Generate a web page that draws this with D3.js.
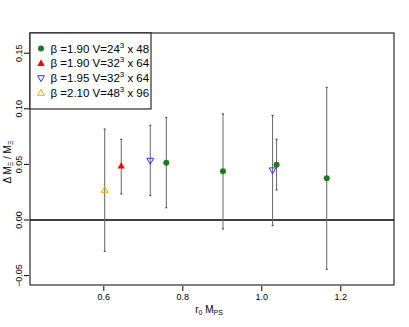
<!DOCTYPE html>
<html>
<head>
<meta charset="utf-8">
<title>Delta M</title>
<style>
  body { margin: 0; background: #fff; }
  text { font-family: "Liberation Sans", Arial, sans-serif; }
</style>
</head>
<body>
<div id="chart"></div>
<script src="https://cdn.jsdelivr.net/npm/d3@7"></script>
<script>
(function(d3) {
  'use strict';

  // data: one array per ensemble group
  var groups = ['b190_24', 'b190_32', 'b195_32', 'b210_48'];
  var xVals = [
    [0.7595, 0.9030, 1.0387, 1.1657],
    [0.6454],
    [0.7189, 1.0286],
    [0.6035]
  ];
  var yVals = [
    [0.0515, 0.0438, 0.0497, 0.0375],
    [0.0486],
    [0.0533, 0.0447],
    [0.0270]
  ];
  var yLow = [
    [0.0110, -0.0081, 0.0270, -0.0443],
    [0.0234],
    [0.0219, -0.0051],
    [-0.0281]
  ];
  var yHigh = [
    [0.0923, 0.0953, 0.0726, 0.1193],
    [0.0726],
    [0.0852, 0.0941],
    [0.0818]
  ];
  var legendBeta = ['1.90', '1.90', '1.95', '2.10'];
  var legendL = ['24', '32', '32', '48'];
  var legendT = ['48', '64', '64', '96'];
  var xTicks = [0.6, 0.8, 1.0, 1.2];
  var yTicks = [-0.05, 0.00, 0.05, 0.10, 0.15];

  var width = 409, height = 327;
  var left = 30, right = 394, top = 33, bottom = 285;

  var x = d3.scaleLinear().domain([0.4144, 1.336]).range([left, right]);
  var y = d3.scaleLinear().domain([-0.05845, 0.16817]).range([bottom, top]);

  var svg = d3.select('#chart').append('svg')
    .attr('width', width)
    .attr('height', height);

  // zero line
  svg.append('line')
    .attr('x1', left).attr('x2', right)
    .attr('y1', y(0)).attr('y2', y(0))
    .attr('stroke', '#000').attr('stroke-width', 1.3);

  // error bars
  groups.forEach(function(g, i) {
    xVals[i].forEach(function(xv, j) {
      var bar = svg.append('g');
      bar.append('line')
        .attr('x1', x(xv)).attr('x2', x(xv))
        .attr('y1', y(yLow[i][j])).attr('y2', y(yHigh[i][j]))
        .attr('stroke', '#666').attr('stroke-width', 1);
      [yLow[i][j], yHigh[i][j]].forEach(function(e) {
        bar.append('line')
          .attr('x1', x(xv) - 1).attr('x2', x(xv) + 1)
          .attr('y1', y(e)).attr('y2', y(e))
          .attr('stroke', '#333').attr('stroke-width', 1);
      });
    });
  });

  function marker(sel, i) {
    if (i === 0) {
      sel.append('circle').attr('r', 3).attr('fill', '#1e7a1e');
    } else if (i === 1) {
      sel.append('path').attr('d', 'M0,-4L3.6,2.6L-3.6,2.6Z').attr('fill', '#f00');
    } else if (i === 2) {
      sel.append('path').attr('d', 'M0,3.5L3.4,-2.4L-3.4,-2.4Z')
        .attr('fill', 'none').attr('stroke', '#3333ff').attr('stroke-width', 1);
    } else {
      sel.append('path').attr('d', 'M0,-3.5L3.4,2.4L-3.4,2.4Z')
        .attr('fill', 'none').attr('stroke', '#ffa500').attr('stroke-width', 1);
    }
  }

  groups.forEach(function(g, i) {
    xVals[i].forEach(function(xv, j) {
      var m = svg.append('g')
        .attr('transform', 'translate(' + x(xv) + ',' + y(yVals[i][j]) + ')');
      marker(m, i);
    });
  });

  // box
  svg.append('rect')
    .attr('x', left).attr('y', top)
    .attr('width', right - left).attr('height', bottom - top)
    .attr('fill', 'none').attr('stroke', '#000').attr('stroke-width', 1);

  // axes
  var xAxis = d3.axisBottom(x).tickValues(xTicks).tickSize(5).tickPadding(3)
    .tickFormat(d3.format('.1f'));
  var gx = svg.append('g').attr('transform', 'translate(0,' + (bottom + 1) + ')').call(xAxis);
  gx.select('.domain').remove();
  gx.selectAll('text').attr('font-size', 9).attr('font-family', '"Liberation Sans", Arial, sans-serif');

  var yAxis = d3.axisLeft(y).tickValues(yTicks).tickSize(5).tickFormat(d3.format('.2f'));
  var gy = svg.append('g').attr('transform', 'translate(' + (left - 1) + ',0)').call(yAxis);
  gy.select('.domain').remove();
  gy.selectAll('.tick').attr('transform', null);
  gy.selectAll('.tick line')
    .attr('y1', function(d) { return y(d); })
    .attr('y2', function(d) { return y(d); });
  gy.selectAll('text')
    .attr('font-size', 9)
    .attr('font-family', '"Liberation Sans", Arial, sans-serif')
    .attr('text-anchor', 'middle')
    .attr('x', null).attr('dy', null).attr('y', 0)
    .attr('transform', function(d) { return 'translate(-7,' + y(d) + ') rotate(-90)'; });

  // axis labels
  var xl = svg.append('text').attr('x', 209).attr('y', 313)
    .attr('text-anchor', 'middle').attr('font-size', 10);
  xl.append('tspan').text('r');
  xl.append('tspan').attr('font-size', 7).attr('dy', 2).text('0');
  xl.append('tspan').attr('dy', -2).text(' M');
  xl.append('tspan').attr('font-size', 7).attr('dy', 2).text('PS');

  var yl = svg.append('text')
    .attr('transform', 'translate(11,162) rotate(-90)')
    .attr('text-anchor', 'middle').attr('font-size', 10);
  yl.append('tspan').text('\u0394 M');
  yl.append('tspan').attr('font-size', 7).attr('dy', 2).text('\u039e');
  yl.append('tspan').attr('dy', -2).text(' / M');
  yl.append('tspan').attr('font-size', 7).attr('dy', 2).text('\u039e');

  // legend
  svg.append('rect')
    .attr('x', left).attr('y', top)
    .attr('width', 121).attr('height', 76)
    .attr('fill', '#fff').attr('stroke', '#000').attr('stroke-width', 1);

  groups.forEach(function(g, i) {
    var ly = 48.5 + i * 14.8;
    var m = svg.append('g').attr('transform', 'translate(41,' + ly + ')');
    marker(m, i);
    var t = svg.append('text').attr('x', 50.5).attr('y', ly + 4).attr('font-size', 11.5);
    t.append('tspan').text('\u03b2 =' + legendBeta[i] + ' V=' + legendL[i]);
    t.append('tspan').attr('font-size', 8).attr('dy', -5).text('3');
    t.append('tspan').attr('dy', 5).text(' x ' + legendT[i]);
  });
})(window.d3);
</script>
</body>
</html>
